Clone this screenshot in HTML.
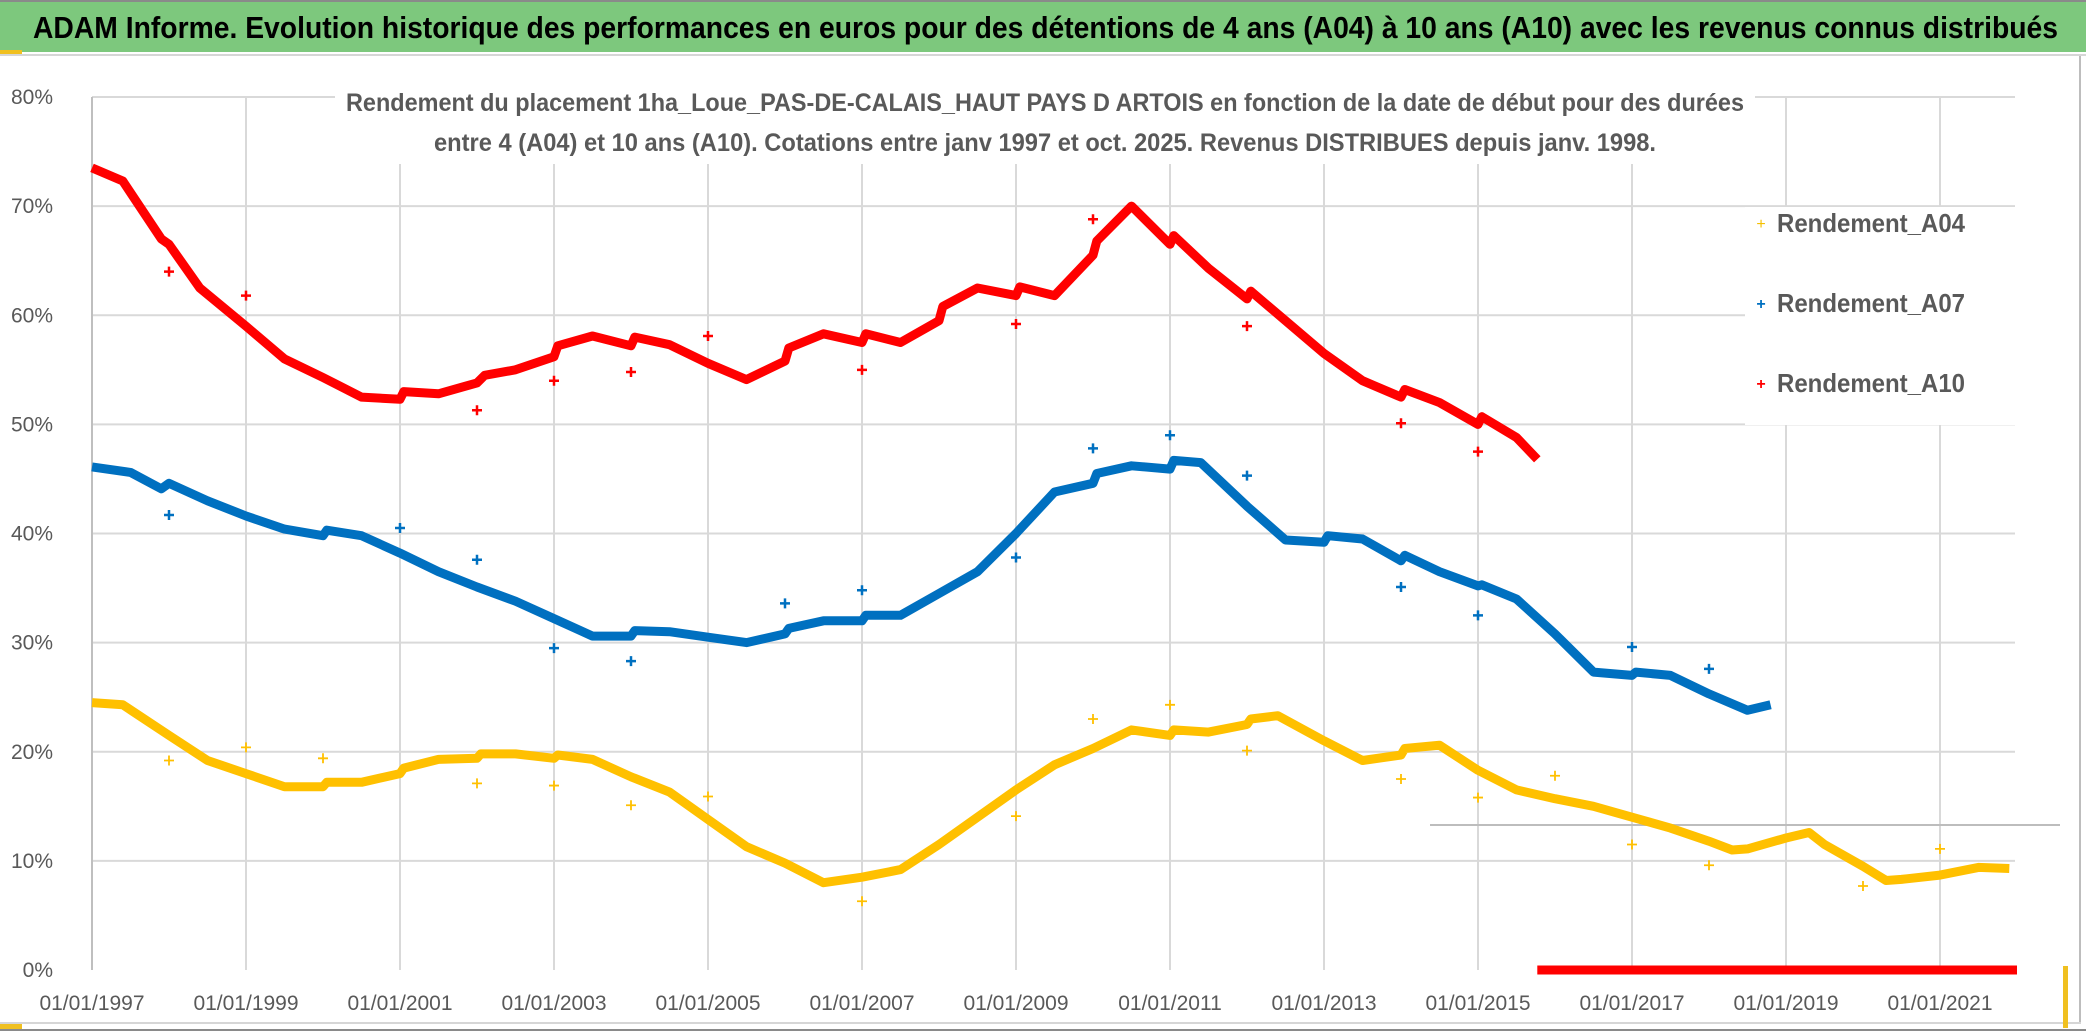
<!DOCTYPE html>
<html><head><meta charset="utf-8">
<style>
html,body{margin:0;padding:0;background:#fff;}
svg{display:block;font-family:"Liberation Sans",sans-serif;}
</style></head>
<body>
<svg id="chart" width="2086" height="1032" viewBox="0 0 2086 1032" xmlns="http://www.w3.org/2000/svg">
<rect x="0" y="0" width="2086" height="1032" fill="#fff"/>
<rect x="0" y="0" width="2086" height="52" fill="#7dc87d"/>
<line x1="0" y1="1" x2="2086" y2="1" stroke="#8a8a8a" stroke-width="2"/>
<line x1="0" y1="55" x2="2086" y2="55" stroke="#d6d6d6" stroke-width="2"/>
<rect x="0" y="50" width="22" height="4" fill="#f0c020"/>
<text x="33" y="38" font-size="31" font-weight="bold" fill="#000" textLength="2025" lengthAdjust="spacingAndGlyphs">ADAM Informe. Evolution historique des performances en euros pour des détentions de 4 ans (A04) à 10 ans (A10) avec les revenus connus distribués</text>
<line x1="2080" y1="56" x2="2080" y2="1023" stroke="#bdbdbd" stroke-width="2"/>
<line x1="0" y1="1023" x2="2081" y2="1023" stroke="#d6d6d6" stroke-width="2"/>
<line x1="0" y1="1030" x2="2086" y2="1030" stroke="#8a8a8a" stroke-width="2"/>
<rect x="0" y="1024" width="22" height="5" fill="#f0c020"/>
<rect x="2063" y="966" width="5" height="62" fill="#f0c020"/>
<g id="grid"></g>
<g id="axes"></g>
<rect x="335" y="80" width="1420" height="84" fill="#fff"/>
<text x="1045" y="111" font-size="25" font-weight="bold" fill="#595959" text-anchor="middle" textLength="1398" lengthAdjust="spacingAndGlyphs">Rendement du placement 1ha_Loue_PAS-DE-CALAIS_HAUT PAYS D ARTOIS en fonction de la date de début pour des durées</text>
<text x="1045" y="151" font-size="25" font-weight="bold" fill="#595959" text-anchor="middle" textLength="1222" lengthAdjust="spacingAndGlyphs">entre 4 (A04) et 10 ans (A10). Cotations entre janv 1997 et oct. 2025. Revenus DISTRIBUES depuis janv. 1998.</text>
<line x1="1430" y1="825" x2="2060" y2="825" stroke="#bdbdbd" stroke-width="2"/>
<g id="series"></g>
<rect x="1745" y="207" width="270" height="218" fill="#fff"/>
<g>
<g><text x="1761" y="229" font-size="16" fill="#f5c000" text-anchor="middle">+</text><text x="1777" y="232" font-size="26" font-weight="bold" fill="#595959" textLength="188" lengthAdjust="spacingAndGlyphs">Rendement_A04</text></g>
<g><text x="1761" y="309" font-size="16" font-weight="bold" fill="#0070c0" text-anchor="middle">+</text><text x="1777" y="312" font-size="26" font-weight="bold" fill="#595959" textLength="188" lengthAdjust="spacingAndGlyphs">Rendement_A07</text></g>
<g><text x="1761" y="389" font-size="16" font-weight="bold" fill="#ff0000" text-anchor="middle">+</text><text x="1777" y="392" font-size="26" font-weight="bold" fill="#595959" textLength="188" lengthAdjust="spacingAndGlyphs">Rendement_A10</text></g>
</g>
</svg>
<script>
const yTicks = [0,10,20,30,40,50,60,70,80];
const xTickYears = [1997,1999,2001,2003,2005,2007,2009,2011,2013,2015,2017,2019,2021];
const xTickLabels = ["01/01/1997","01/01/1999","01/01/2001","01/01/2003","01/01/2005","01/01/2007","01/01/2009","01/01/2011","01/01/2013","01/01/2015","01/01/2017","01/01/2019","01/01/2021"];
const a10Years = [1997.0,1997.4,1997.9,1998.0,1998.4,1999.0,1999.5,2000.0,2000.5,2001.0,2001.05,2001.5,2002.0,2002.1,2002.5,2003.0,2003.05,2003.5,2004.0,2004.05,2004.5,2005.0,2005.5,2006.0,2006.05,2006.5,2007.0,2007.05,2007.5,2008.0,2008.05,2008.5,2009.0,2009.05,2009.5,2010.0,2010.05,2010.5,2011.0,2011.05,2011.5,2012.0,2012.05,2012.5,2013.0,2013.5,2014.0,2014.05,2014.5,2015.0,2015.05,2015.5,2015.77];
const a10Values = [73.5,72.3,67,66.5,62.5,59,56,54.3,52.5,52.3,53,52.8,53.8,54.5,55,56.2,57.2,58.1,57.2,58,57.3,55.6,54.1,55.8,57,58.3,57.5,58.3,57.5,59.5,60.8,62.5,61.8,62.6,61.8,65.5,66.8,70,66.5,67.3,64.3,61.5,62.2,59.5,56.5,54,52.5,53.2,52,50,50.7,48.8,46.8];
const a10OutYears = [1998,1999,2002,2003,2004,2005,2007,2009,2010,2012,2014,2015];
const a10OutValues = [64,61.8,51.3,54,54.8,58.1,55,59.2,68.8,59,50.1,47.5];
const a10ZeroYears = [2015.77,2022.0];
const a10ZeroValues = [0,0];
const a07Years = [1997.0,1997.5,1997.9,1998.0,1998.5,1999.0,1999.5,2000.0,2000.05,2000.5,2001.0,2001.5,2002.0,2002.5,2003.0,2003.5,2004.0,2004.05,2004.5,2005.0,2005.5,2006.0,2006.05,2006.5,2007.0,2007.05,2007.5,2008.0,2008.5,2009.0,2009.5,2010.0,2010.05,2010.5,2011.0,2011.05,2011.4,2012.0,2012.5,2013.0,2013.05,2013.5,2014.0,2014.05,2014.5,2015.0,2015.05,2015.5,2016.0,2016.5,2017.0,2017.05,2017.5,2018.0,2018.5,2018.8];
const a07Values = [46.1,45.6,44.1,44.6,43,41.6,40.4,39.8,40.3,39.8,38.2,36.5,35.1,33.8,32.2,30.6,30.6,31.1,31,30.5,30,30.8,31.3,32,32,32.5,32.5,34.5,36.5,40,43.8,44.6,45.5,46.2,45.9,46.7,46.5,42.5,39.4,39.2,39.8,39.5,37.5,38,36.5,35.2,35.3,34,30.8,27.3,27,27.3,27,25.3,23.8,24.3];
const a07OutYears = [1998,2001,2002,2003,2004,2006,2007,2009,2010,2011,2012,2014,2015,2017,2018];
const a07OutValues = [41.7,40.5,37.6,29.5,28.3,33.6,34.8,37.8,47.8,49,45.3,35.1,32.5,29.6,27.6];
const a04Years = [1997.0,1997.4,1998.0,1998.5,1999.0,1999.5,2000.0,2000.05,2000.5,2001.0,2001.05,2001.5,2002.0,2002.05,2002.5,2003.0,2003.05,2003.5,2004.0,2004.5,2005.0,2005.5,2006.0,2006.5,2007.0,2007.5,2008.0,2008.5,2009.0,2009.5,2010.0,2010.5,2011.0,2011.05,2011.5,2012.0,2012.05,2012.4,2013.0,2013.5,2014.0,2014.05,2014.5,2015.0,2015.5,2016.0,2016.5,2017.0,2017.5,2018.0,2018.3,2018.5,2019.0,2019.3,2019.5,2020.0,2020.3,2020.5,2021.0,2021.5,2021.9];
const a04Values = [24.5,24.3,21.5,19.2,18,16.8,16.8,17.2,17.2,18,18.5,19.3,19.4,19.8,19.8,19.4,19.7,19.3,17.7,16.3,13.8,11.3,9.8,8,8.5,9.2,11.5,14,16.5,18.8,20.3,22,21.5,22,21.8,22.5,23,23.3,21,19.2,19.7,20.3,20.6,18.3,16.5,15.7,15,14,13,11.8,11,11.1,12.1,12.6,11.5,9.5,8.2,8.3,8.7,9.4,9.3];
const a04OutYears = [1998,1999,2000,2002,2003,2004,2005,2007,2009,2010,2011,2012,2014,2015,2016,2017,2018,2020,2021];
const a04OutValues = [19.2,20.4,19.4,17.1,16.9,15.1,15.9,6.3,14.1,23,24.3,20.1,17.5,15.8,17.8,11.5,9.6,7.7,11.1];

const NS = "http://www.w3.org/2000/svg";
const X0 = 92, PXY = 77, Y0 = 970, PXV = 10.9125, XR = 2015;
function xs(yr){ return X0 + (yr - 1997) * PXY; }
function ys(v){ return Y0 - v * PXV; }
function mk(tag, attrs, parent){ const e = document.createElementNS(NS, tag); for (const k in attrs) e.setAttribute(k, attrs[k]); parent.appendChild(e); return e; }

const grid = document.getElementById('grid');
const axes = document.getElementById('axes');
yTicks.forEach(v => {
  if (v > 0) {
    const l = mk('line', {x1: X0, y1: ys(v), x2: XR, y2: ys(v), stroke: '#d9d9d9', 'stroke-width': 2}, grid);
    
    
  }
  const t = mk('text', {x: 53, y: ys(v) + 7, 'font-size': 21, fill: '#595959', 'text-anchor': 'end'}, axes);
  t.textContent = v + '%';
  
  
});
xTickYears.forEach((yr, i) => {
  if (i > 0) {
    const l = mk('line', {x1: xs(yr), y1: ys(80), x2: xs(yr), y2: Y0, stroke: '#d9d9d9', 'stroke-width': 2}, grid);
    
    
  }
  const t = mk('text', {x: xs(yr), y: 1010, 'font-size': 21, fill: '#595959', 'text-anchor': 'middle'}, axes);
  t.textContent = xTickLabels[i];
  
  
});
const ya = mk('line', {x1: X0, y1: ys(80), x2: X0, y2: Y0, stroke: '#bfbfbf', 'stroke-width': 2}, axes);



const series = document.getElementById('series');
function band(years, vals, color, name){
  const pts = years.map((y, i) => xs(y).toFixed(1) + ',' + ys(vals[i]).toFixed(1)).join(' ');
  const p = mk('polyline', {points: pts, fill: 'none', stroke: color, 'stroke-width': 9, 'stroke-linejoin': 'round', 'stroke-linecap': 'butt'}, series);
  
  
}
function crosses(years, vals, color, name, w){
  years.forEach((y, i) => {
    const cx = xs(y), cy = ys(vals[i]);
    const g = mk('path', {d: `M${cx-5},${cy}H${cx+5}M${cx},${cy-5}V${cy+5}`, stroke: color, 'stroke-width': w, fill: 'none'}, series);
    
    
  });
}
band(a04Years, a04Values, '#ffc000', 'a04-series-line');
crosses(a04OutYears, a04OutValues, '#ffc000', 'a04-marker', 1.8);
band(a07Years, a07Values, '#0070c0', 'a07-series-line');
crosses(a07OutYears, a07OutValues, '#0070c0', 'a07-marker', 2.5);
band(a10Years, a10Values, '#ff0000', 'a10-series-line');
crosses(a10OutYears, a10OutValues, '#ff0000', 'a10-marker', 2.5);
band(a10ZeroYears, a10ZeroValues, '#ff0000', 'a10-zero-line');
</script>
</body></html>
